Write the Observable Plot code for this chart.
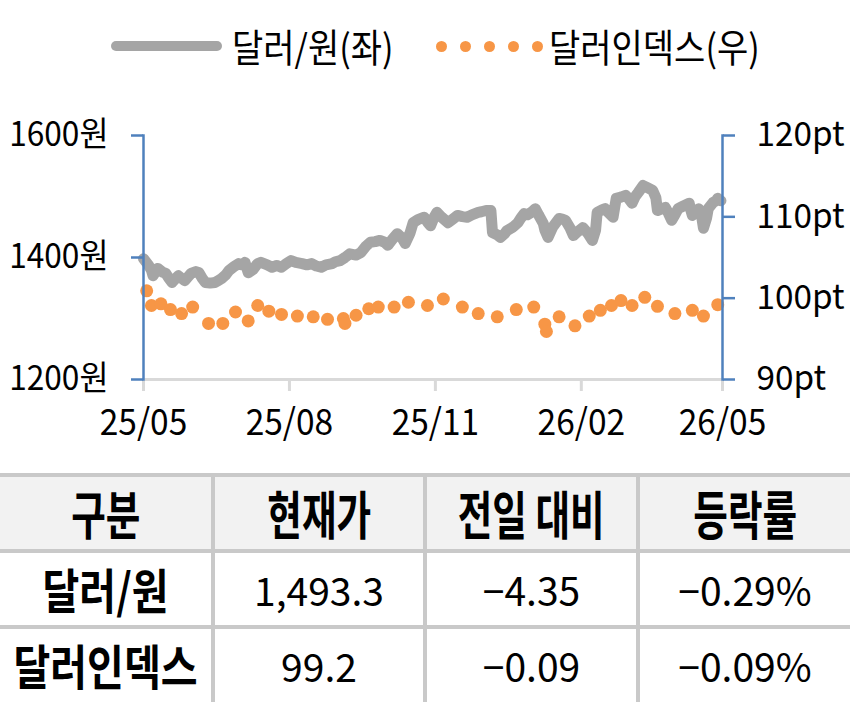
<!DOCTYPE html>
<html>
<head>
<meta charset="utf-8">
<script src="https://cdn.jsdelivr.net/npm/d3@7"></script>
<script src="https://cdn.jsdelivr.net/npm/@observablehq/plot@0.6"></script>
<style>
  html, body { margin: 0; padding: 0; background: #fff; }
  body { width: 850px; height: 702px; position: relative; overflow: hidden; font-family: "Noto Sans CJK KR", "Noto Sans", sans-serif; color: #000; }
  #legend { position: absolute; left: 0; top: 22px; width: 850px; height: 48px; }
  .lg { position: absolute; top: 0; font-size: 34px; line-height: 48px; white-space: nowrap; display: inline-block; transform: scaleY(1.12); transform-origin: left center; }
  .lgline { position: absolute; top: 19px; height: 10px; border-radius: 5px; background: #a5a5a5; }
  .lgdot { position: absolute; top: 19px; width: 11px; height: 11px; border-radius: 50%; background: #f79646; }
  #chart { position: absolute; left: 0; top: 100px; }
  #table { position: absolute; left: 0; top: 473px; width: 850px; }
  .row { position: absolute; left: 0; width: 850px; height: 77px; border-top: 4px solid #c9c9c9; box-sizing: border-box; }
  .row.head { background: #f2f2f2; }
  .cell { position: absolute; top: 0; height: 73px; line-height: 73px; text-align: center; white-space: nowrap; }
  .cell.sep { border-left: 4px solid #c9c9c9; box-sizing: border-box; }
  .cell span { display: inline-block; }
  .head .cell { font-weight: 700; font-size: 40px; }
  .head .cell span { transform: scale(0.94, 1.3); }
  .body .cell { font-size: 39px; }
  .body .cell.first { font-weight: 700; font-size: 40px; }
  .body .cell.first span { transform: scale(1.0, 1.2); }
</style>
</head>
<body>
<div id="legend"></div>
<div id="chart"></div>
<div id="table"></div>
<script>
// ---- data ----
const seriesNames = ["달러/원(좌)", "달러인덱스(우)"];
const monthTicks = ["2025-05-01", "2025-08-01", "2025-11-01", "2026-02-01", "2026-05-01"];
const wonTicks = [1200, 1400, 1600];
const ptTicks = [90, 100, 110, 120];

const krwDates = [
"2025-05-01","2025-05-04","2025-05-06","2025-05-07","2025-05-10","2025-05-13","2025-05-15","2025-05-17","2025-05-19","2025-05-21",
"2025-05-23","2025-05-25","2025-05-27","2025-05-29","2025-05-31","2025-06-03","2025-06-05","2025-06-07","2025-06-09","2025-06-12",
"2025-06-15","2025-06-17","2025-06-19","2025-06-22","2025-06-24","2025-06-27","2025-06-30","2025-07-02","2025-07-04","2025-07-06",
"2025-07-09","2025-07-11","2025-07-12","2025-07-14","2025-07-18","2025-07-21","2025-07-24","2025-07-27","2025-07-30","2025-08-02",
"2025-08-05","2025-08-09","2025-08-12","2025-08-15","2025-08-18","2025-08-21","2025-08-24","2025-08-28","2025-08-30","2025-09-02",
"2025-09-05","2025-09-08","2025-09-12","2025-09-15","2025-09-18","2025-09-21","2025-09-24","2025-09-27","2025-09-30","2025-10-02",
"2025-10-05","2025-10-08","2025-10-11","2025-10-13","2025-10-16","2025-10-18","2025-10-21","2025-10-25","2025-10-27","2025-10-29",
"2025-10-31","2025-11-02","2025-11-05","2025-11-09","2025-11-12","2025-11-15","2025-11-18","2025-11-21","2025-11-24","2025-11-28",
"2025-11-30","2025-12-03","2025-12-06","2025-12-07","2025-12-10","2025-12-12","2025-12-15","2025-12-16","2025-12-20","2025-12-23",
"2025-12-25","2025-12-27","2025-12-29","2026-01-01","2026-01-03","2026-01-05","2026-01-08","2026-01-09","2026-01-11","2026-01-14",
"2026-01-18","2026-01-20","2026-01-22","2026-01-25","2026-01-27","2026-01-30","2026-02-02","2026-02-05","2026-02-08","2026-02-10",
"2026-02-11","2026-02-14","2026-02-16","2026-02-18","2026-02-21","2026-02-23","2026-02-26","2026-03-01","2026-03-03","2026-03-05",
"2026-03-07","2026-03-09","2026-03-12","2026-03-15","2026-03-18","2026-03-20","2026-03-21","2026-03-24","2026-03-26","2026-03-28",
"2026-03-30","2026-04-01","2026-04-03","2026-04-06","2026-04-10","2026-04-11","2026-04-12","2026-04-14","2026-04-16","2026-04-18",
"2026-04-19","2026-04-21","2026-04-22","2026-04-25","2026-04-27","2026-04-28","2026-04-30"
];
const krwValues = [
1398,1388,1379,1370,1382,1376,1374,1366,1359,1365,
1370,1366,1362,1368,1374,1377,1375,1366,1359,1358,
1359,1362,1365,1372,1379,1385,1390,1388,1392,1375,
1380,1387,1390,1392,1388,1384,1387,1384,1390,1395,
1392,1390,1388,1390,1386,1384,1388,1390,1393,1395,
1400,1406,1404,1408,1418,1425,1426,1428,1425,1420,
1430,1439,1432,1423,1440,1457,1462,1466,1458,1452,
1465,1474,1466,1457,1463,1469,1467,1466,1470,1474,
1475,1477,1477,1441,1437,1433,1440,1444,1450,1457,
1465,1472,1470,1475,1480,1470,1456,1445,1433,1450,
1464,1463,1461,1448,1436,1443,1449,1440,1428,1445,
1474,1478,1480,1474,1466,1497,1499,1502,1496,1489,
1500,1507,1518,1514,1510,1498,1477,1480,1482,1472,
1461,1470,1480,1484,1489,1478,1469,1475,1480,1465,
1448,1465,1480,1490,1493,1497,1493
];

const dxyDates = [
"2025-05-03","2025-05-06","2025-05-12","2025-05-18","2025-05-25","2025-06-01","2025-06-11","2025-06-20","2025-06-28","2025-07-06",
"2025-07-12","2025-07-19","2025-07-27","2025-08-06","2025-08-16","2025-08-25","2025-09-04","2025-09-05","2025-09-12","2025-09-20",
"2025-09-26","2025-10-06","2025-10-15","2025-10-27","2025-11-06","2025-11-18","2025-11-28","2025-12-10","2025-12-22","2026-01-02",
"2026-01-09","2026-01-10","2026-01-18","2026-01-28","2026-02-06","2026-02-13","2026-02-20","2026-02-26","2026-03-05","2026-03-13",
"2026-03-21","2026-04-01","2026-04-12","2026-04-19","2026-04-28"
];
const dxyValues = [
100.9,99.1,99.3,98.6,98.1,98.9,96.9,96.9,98.3,97.2,
99.1,98.4,98.0,97.8,97.7,97.4,97.5,96.9,97.9,98.7,
98.9,98.9,99.5,99.1,99.9,98.9,98.1,97.7,98.6,98.9,
96.8,95.9,97.7,96.6,97.8,98.5,99.1,99.7,99.1,100.1,
99.0,98.1,98.5,97.8,99.2
];

const tableHead = ["구분", "현재가", "전일 대비", "등락률"];
const tableRowNames = ["달러/원", "달러인덱스"];
const tableNow = ["1,493.3", "99.2"];
const tableChange = ["−4.35", "−0.09"];
const tableRate = ["−0.29%", "−0.09%"];

// ---- scales: right axis (pt) mapped onto left axis (원) ----
const wonDomain = [1200, 1600];
const ptDomain = [90, 120];
const toWon = p => wonDomain[0] + (p - ptDomain[0]) * (wonDomain[1] - wonDomain[0]) / (ptDomain[1] - ptDomain[0]);
const toPt = w => ptDomain[0] + (w - wonDomain[0]) * (ptDomain[1] - ptDomain[0]) / (wonDomain[1] - wonDomain[0]);

const krw = krwDates.map((d, i) => ({date: new Date(d), v: krwValues[i]}));
const dxy = dxyDates.map((d, i) => ({date: new Date(d), v: dxyValues[i]}));

const blue = "#4f81bd";
const gray = "#a5a5a5";
const orange = "#f79646";

const plot = Plot.plot({
  width: 850,
  height: 360,
  marginLeft: 143,
  marginRight: 128,
  marginTop: 35,
  marginBottom: 81,
  style: {fontFamily: "'Noto Sans CJK KR', 'Noto Sans', sans-serif", fontSize: "32px", color: "#000", background: "transparent"},
  x: {type: "utc", domain: [new Date(monthTicks[0]), new Date(monthTicks[monthTicks.length - 1])]},
  y: {domain: wonDomain},
  marks: [
    Plot.frame({anchor: "bottom", stroke: "#d9d9d9", strokeWidth: 3}),
    Plot.axisX(monthTicks.map(d => new Date(d)), {
      tickFormat: d3.utcFormat("%y/%m"), tickSize: 12, tickPadding: 18,
      stroke: "#d9d9d9", strokeWidth: 3, fill: "#000", fontSize: 36, label: null,
      ariaLabel: "x-axis"
    }),
    Plot.line(krw, {x: "date", y: "v", stroke: gray, strokeWidth: 11, strokeLinejoin: "round", strokeLinecap: "round"}),
    Plot.dot(dxy, {x: "date", y: d => toWon(d.v), r: 6.5, fill: orange, stroke: null}),
    Plot.frame({anchor: "left", stroke: blue, strokeWidth: 2.5}),
    Plot.frame({anchor: "right", stroke: blue, strokeWidth: 2.5}),
    Plot.axisY(wonTicks, {
      anchor: "left", tickFormat: d => d + "원", tickSize: 12, tickPadding: 23,
      stroke: blue, strokeWidth: 2.5, fill: "#000", fontSize: 34, label: null
    }),
    Plot.axisY(ptTicks.map(toWon), {
      anchor: "right", tickFormat: d => Math.round(toPt(d)) + "pt", tickSize: 12, tickPadding: 22,
      stroke: blue, strokeWidth: 2.5, fill: "#000", fontSize: 34, label: null
    })
  ]
});
document.getElementById("chart").appendChild(plot);

// condense axis label glyphs slightly (the reference font is narrow and tall)
plot.querySelectorAll("g[aria-label$='tick label'] text").forEach(t => {
  const w = t.getComputedTextLength();
  const txt = t.textContent;
  const f = /원$/.test(txt) ? 0.93 : /pt$/.test(txt) ? 0.98 : 0.93;
  t.setAttribute("textLength", (w * f).toFixed(1));
  t.setAttribute("lengthAdjust", "spacingAndGlyphs");
});

// ---- legend ----
const legend = document.getElementById("legend");
legend.innerHTML =
  `<div class="lgline" style="left:111px;width:111px"></div>` +
  `<div class="lg" style="left:232px">${seriesNames[0]}</div>` +
  [0,1,2,3,4].map(i => `<div class="lgdot" style="left:${436 + i * 24}px"></div>`).join("") +
  `<div class="lg" style="left:549px">${seriesNames[1]}</div>`;

// ---- table ----
const colX = [0, 211, 423, 636, 850];
function rowHtml(cells, cls, top) {
  return `<div class="row ${cls}" style="top:${top}px">` +
    cells.map((c, i) => `<div class="cell${i > 0 ? " sep" : ""}${i === 0 ? " first" : ""}" style="left:${colX[i]}px;width:${colX[i+1]-colX[i]}px"><span>${c}</span></div>`).join("") +
    `</div>`;
}
let html = rowHtml(tableHead, "head", 0);
tableRowNames.forEach((n, i) => {
  html += rowHtml([n, tableNow[i], tableChange[i], tableRate[i]], "body", 76 * (i + 1));
});
document.getElementById("table").innerHTML = html;
</script>
</body>
</html>
